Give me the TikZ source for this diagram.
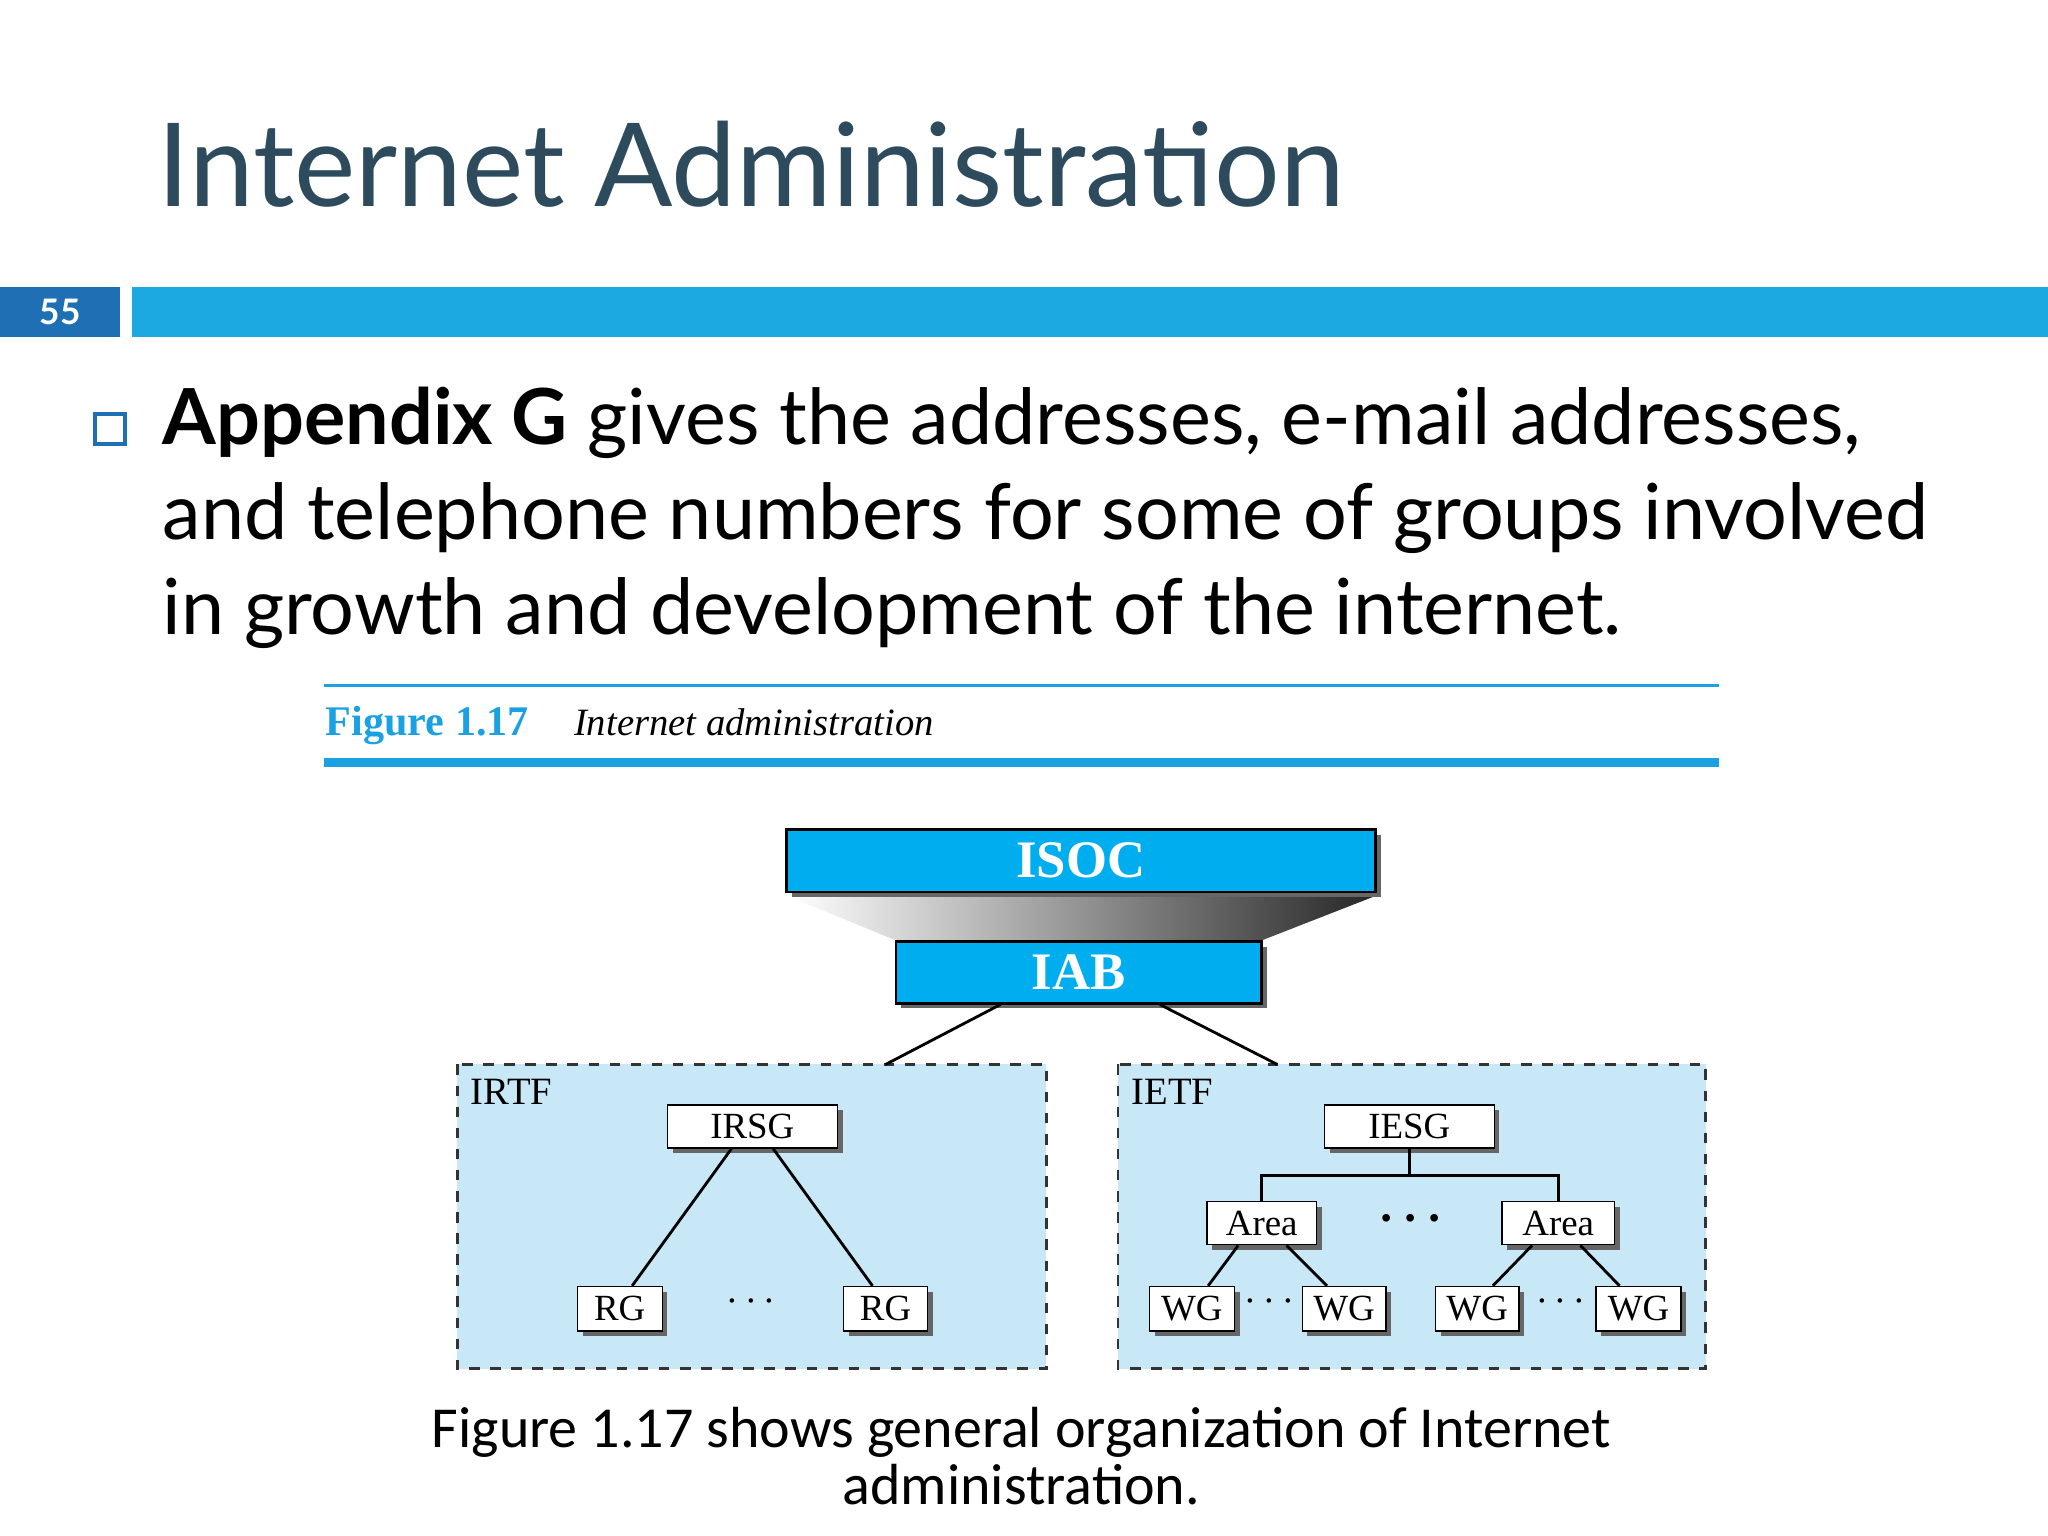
\documentclass[tikz,border=0pt]{standalone}
\usepackage{fontspec}
\setmainfont{Liberation Serif}
\newfontfamily\slidefont{Lato}
\newfontfamily\capfont{Carlito}
\usetikzlibrary{shadows}
\definecolor{titlec}{HTML}{2E4B5E}
\definecolor{barc}{HTML}{1CA9E1}
\definecolor{numc}{HTML}{1F6FB5}
\definecolor{boxc}{HTML}{00AEEF}
\definecolor{panel}{HTML}{C8E8F8}
\definecolor{figc}{HTML}{1BA1E2}
\tikzset{
 bigbox/.style={draw=black,thick,fill=boxc,text=white,font=\bfseries\fontsize{15}{15}\selectfont,inner sep=0pt,drop shadow={shadow xshift=1.5pt,shadow yshift=-1.5pt,fill=black!60,opacity=1}},
 smallbox/.style={draw=black,fill=white,font=\fontsize{10.5}{10.5}\selectfont,inner sep=0pt,drop shadow={shadow xshift=1.5pt,shadow yshift=-1.5pt,fill=black!60,opacity=1}},
 panelbox/.style={draw=black!80,dashed,fill=panel,thick},
 conn/.style={draw=black,thick},
 dotsl/.style={font=\bfseries\fontsize{12}{12}\selectfont},
}
\begin{document}
\begin{tikzpicture}[x=0.013061cm,y=-0.013061cm]
\useasboundingbox (0,0) rectangle (1568,1176);
% title
\node[anchor=base west,inner sep=0,text=titlec,font=\slidefont\fontsize{33}{33}\selectfont] (title) at (120,158) {Internet Administration};
\fill[numc] (0,220) rectangle (92,258);
\node[text=white,font=\slidefont\bfseries\fontsize{10}{10}\selectfont] (num) at (46,239) {55};
\fill[barc] (101,220) rectangle (1568,258);
% bullet
\draw[numc,line width=1.2pt] (73,317) rectangle (96,340);
\begin{scope}[every node/.style={anchor=base west,inner sep=0,font=\slidefont\fontsize{22}{22}\selectfont}]
\node (l1) at (124,340) {\textbf{Appendix G} gives the addresses, e-mail addresses,};
\node (l2) at (124,413) {and telephone numbers for some of groups involved};
\node (l3) at (124,486) {in growth and development of the internet.};
\end{scope}
% figure header
\draw[figc,line width=0.8pt] (248,525) -- (1316,525);
\draw[figc,line width=2.5pt] (248,584) -- (1316,584);
\node[anchor=base west,inner sep=0,text=figc,font=\bfseries\fontsize{12}{12}\selectfont] (fig) at (249,563) {Figure 1.17};
\node[anchor=base west,inner sep=0,font=\itshape\fontsize{11}{11}\selectfont] (figt) at (439,563) {Internet administration};
% trapezoid
\shade[left color=white,right color=black!85] (603,686) -- (1053,686) -- (966,720) -- (686,720) -- cycle;
\node[bigbox,minimum width=451*0.13061mm,minimum height=48*0.13061mm] (isoc) at (827.5,659) {ISOC};
\node[bigbox,minimum width=280*0.13061mm,minimum height=47*0.13061mm] (iab) at (826,744.5) {IAB};
% panels
\draw[panelbox] (350,815) rectangle (801,1048);
\draw[panelbox] (856,815) rectangle (1306,1048);
\node[anchor=north west,inner sep=0,font=\fontsize{11}{11}\selectfont] (irtf) at (360,826) {IRTF};
\node[anchor=north west,inner sep=0,font=\fontsize{11}{11}\selectfont] (ietf) at (866,826) {IETF};
\coordinate (pl) at (678,815);
\coordinate (pr) at (978,815);
\draw[conn] (iab.south -| 766,0) -- (pl);
\draw[conn] (iab.south -| 888,0) -- (pr);
% IRTF tree
\node[smallbox,minimum width=130*0.13061mm,minimum height=33*0.13061mm] (irsg) at (576,862.5) {IRSG};
\node[smallbox,minimum width=65*0.13061mm,minimum height=34*0.13061mm] (rg1) at (474.5,1002) {RG};
\node[smallbox,minimum width=64*0.13061mm,minimum height=34*0.13061mm] (rg2) at (678,1002) {RG};
\node[dotsl] (d1) at (575,997) {$\cdots$};
\draw[conn] (irsg.south -| 560,0) -- (rg1.north -| 484,0);
\draw[conn] (irsg.south -| 592,0) -- (rg2.north -| 668,0);
% IETF tree
\node[smallbox,minimum width=130*0.13061mm,minimum height=33*0.13061mm] (iesg) at (1079,862.5) {IESG};
\node[smallbox,minimum width=84*0.13061mm,minimum height=33*0.13061mm] (a1) at (966,936.5) {Area};
\node[smallbox,minimum width=86*0.13061mm,minimum height=33*0.13061mm] (a2) at (1193,936.5) {Area};
\node[font=\fontsize{20}{20}\selectfont] (d2) at (1080,934) {$\cdot\!\cdot\!\cdot$};
\draw[conn] (iesg.south) -- (1079,900) -- (966,900) -- (a1.north);
\draw[conn] (1079,900) -- (1193,900) -- (a2.north);
\node[smallbox,minimum width=65*0.13061mm,minimum height=34*0.13061mm] (w1) at (912.5,1002) {WG};
\node[smallbox,minimum width=64*0.13061mm,minimum height=34*0.13061mm] (w2) at (1029,1002) {WG};
\node[smallbox,minimum width=64*0.13061mm,minimum height=34*0.13061mm] (w3) at (1131,1002) {WG};
\node[smallbox,minimum width=65*0.13061mm,minimum height=34*0.13061mm] (w4) at (1254.5,1002) {WG};
\node[dotsl] (d3) at (972,997) {$\cdots$};
\node[dotsl] (d4) at (1195,997) {$\cdots$};
\draw[conn] (a1.south -| 948,0) -- (w1.north -| 925,0);
\draw[conn] (a1.south -| 985,0) -- (w2.north -| 1016,0);
\draw[conn] (a2.south -| 1173,0) -- (w3.north -| 1143,0);
\draw[conn] (a2.south -| 1210,0) -- (w4.north -| 1240,0);
% caption
\node[anchor=base,inner sep=0,font=\capfont\fontsize{16.5}{16.5}\selectfont] (c1) at (782,1108) {Figure 1.17 shows general organization of Internet};
\node[anchor=base,inner sep=0,font=\capfont\fontsize{16.5}{16.5}\selectfont] (c2) at (782,1152) {administration.};
\end{tikzpicture}
\end{document}
